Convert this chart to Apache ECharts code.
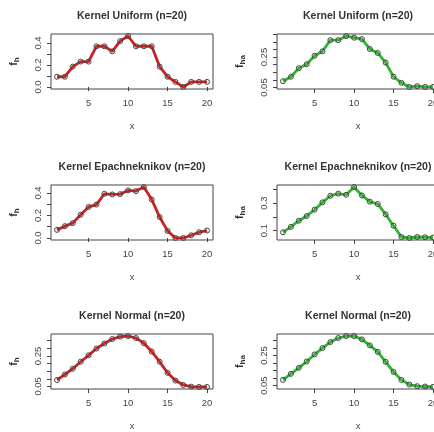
<!DOCTYPE html>
<html>
<head>
<meta charset="utf-8">
<script src="https://cdn.jsdelivr.net/npm/echarts@6/dist/echarts.min.js"></script>
<style>
  html, body { margin: 0; padding: 0; background: #fff; overflow: hidden; }
  #myChart { width: 442px; height: 432px; }
</style>
</head>
<body>
<div id="myChart"></div>
<script>
// data
var xs = [1,2,3,4,5,6,7,8,9,10,11,12,13,14,15,16,17,18,19,20];
var xTicks = [5, 10, 15, 20];

var uniformFh  = [0.093,0.093,0.185,0.231,0.231,0.370,0.370,0.324,0.417,0.463,0.370,0.370,0.370,0.185,0.093,0.046,0.000,0.046,0.046,0.046];
var uniformFha = [0.092,0.121,0.177,0.203,0.259,0.288,0.361,0.361,0.388,0.377,0.368,0.303,0.277,0.214,0.121,0.081,0.054,0.059,0.054,0.054];
var epaFh      = [0.072,0.105,0.132,0.207,0.276,0.297,0.393,0.387,0.390,0.423,0.417,0.453,0.342,0.186,0.063,0.000,0.000,0.024,0.051,0.066];
var epaFha     = [0.088,0.127,0.172,0.206,0.252,0.305,0.353,0.368,0.360,0.416,0.355,0.310,0.293,0.218,0.136,0.054,0.047,0.054,0.052,0.050];
var normFh     = [0.092,0.128,0.166,0.212,0.254,0.299,0.332,0.361,0.377,0.381,0.368,0.334,0.279,0.212,0.139,0.088,0.059,0.048,0.046,0.046];
var normFha    = [0.088,0.128,0.168,0.210,0.257,0.299,0.339,0.366,0.379,0.379,0.357,0.317,0.274,0.208,0.141,0.088,0.057,0.046,0.044,0.041];

var titles = ['Kernel Uniform (n=20)', 'Kernel Epachneknikov (n=20)', 'Kernel Normal (n=20)'];

var ticksA = [0, 0.1, 0.2, 0.3, 0.4];
var labelsA = [0, 0.2, 0.4];
var ticksB = [0.05, 0.10, 0.15, 0.20, 0.25, 0.30, 0.35, 0.40];
var labelsB = [0.05, 0.25];
var ticksC = [0.1, 0.2, 0.3, 0.4];
var labelsC = [0.1, 0.3];

var panels = [
  { row: 0, col: 0, values: uniformFh,  name: 'h',  ticks: ticksA, labels: labelsA, digits: 1 },
  { row: 0, col: 1, values: uniformFha, name: 'ha', ticks: ticksB, labels: labelsB, digits: 2 },
  { row: 1, col: 0, values: epaFh,      name: 'h',  ticks: ticksA, labels: labelsA, digits: 1 },
  { row: 1, col: 1, values: epaFha,     name: 'ha', ticks: ticksC, labels: labelsC, digits: 1 },
  { row: 2, col: 0, values: normFh,     name: 'h',  ticks: ticksB, labels: labelsB, digits: 2 },
  { row: 2, col: 1, values: normFha,    name: 'ha', ticks: ticksB, labels: labelsB, digits: 2 }
];

var colLeft = [51, 277];
var colWidth = 162;
var rowTop = [34, 185, 334];
var rowHeight = 55;
var colors = ['#c92222', '#2fb52f'];
var font = 'Liberation Sans, Arial, sans-serif';

var grids = [], xAxes = [], yAxes = [], series = [], title = [];

panels.forEach(function (p, i) {
  var lo = Math.min.apply(null, p.values), hi = Math.max.apply(null, p.values);
  var pad = (hi - lo) * 0.04;
  var ymin = lo - pad, ymax = hi + pad;
  var ticks = p.ticks.filter(function (t) { return t >= ymin - 1e-9 && t <= ymax + 1e-9; });

  grids.push({
    left: colLeft[p.col], top: rowTop[p.row], width: colWidth, height: rowHeight,
    show: true, borderColor: '#444', borderWidth: 1, backgroundColor: 'transparent'
  });
  title.push({
    text: titles[p.row],
    left: colLeft[p.col] + colWidth / 2,
    top: rowTop[p.row] - 23,
    textAlign: 'center',
    padding: 0,
    textStyle: { fontSize: 10.5, fontWeight: 'bold', color: '#333', fontFamily: font }
  });
  xAxes.push({
    gridIndex: i, type: 'value', min: 0.24, max: 20.76,
    name: 'x', nameLocation: 'middle', nameGap: 32,
    nameTextStyle: { fontSize: 9.5, color: '#444', fontFamily: font },
    axisLine: { show: false },
    axisTick: { show: true, inside: false, length: 4, customValues: xTicks, lineStyle: { color: '#444' } },
    axisLabel: { customValues: xTicks, margin: 9, fontSize: 9.5, color: '#444', fontFamily: font },
    splitLine: { show: false }
  });
  yAxes.push({
    gridIndex: i, type: 'value', min: ymin, max: ymax,
    name: '{a|f}{b|' + p.name + '}', nameLocation: 'middle', nameGap: 30, nameRotate: 90,
    nameTextStyle: {
      color: '#333', fontFamily: font,
      rich: {
        a: { fontSize: 10.5, fontWeight: 'bold', color: '#333', fontFamily: font, verticalAlign: 'middle', lineHeight: 13 },
        b: { fontSize: 8, fontWeight: 'bold', color: '#333', fontFamily: font, verticalAlign: 'bottom', lineHeight: 13 }
      }
    },
    axisLine: { show: false },
    axisTick: { show: true, inside: false, length: 4, customValues: ticks, lineStyle: { color: '#444' } },
    axisLabel: {
      customValues: p.labels, rotate: 90, margin: 8, fontSize: 9.5, color: '#444', fontFamily: font,
      formatter: (function (d) { return function (v) { return Number(v).toFixed(d); }; })(p.digits)
    },
    splitLine: { show: false }
  });
  series.push({
    type: 'line', xAxisIndex: i, yAxisIndex: i,
    data: xs.map(function (x, k) { return [x, p.values[k]]; }),
    lineStyle: { color: colors[p.col], width: 2.8 },
    symbol: 'circle', symbolSize: 5,
    itemStyle: { color: 'rgba(0,0,0,0)', borderColor: '#444', borderWidth: 1 },
    animation: false
  });
});

var myChart = echarts.init(document.getElementById('myChart'));
myChart.setOption({
  animation: false,
  title: title,
  grid: grids,
  xAxis: xAxes,
  yAxis: yAxes,
  series: series
});
</script>
</body>
</html>
